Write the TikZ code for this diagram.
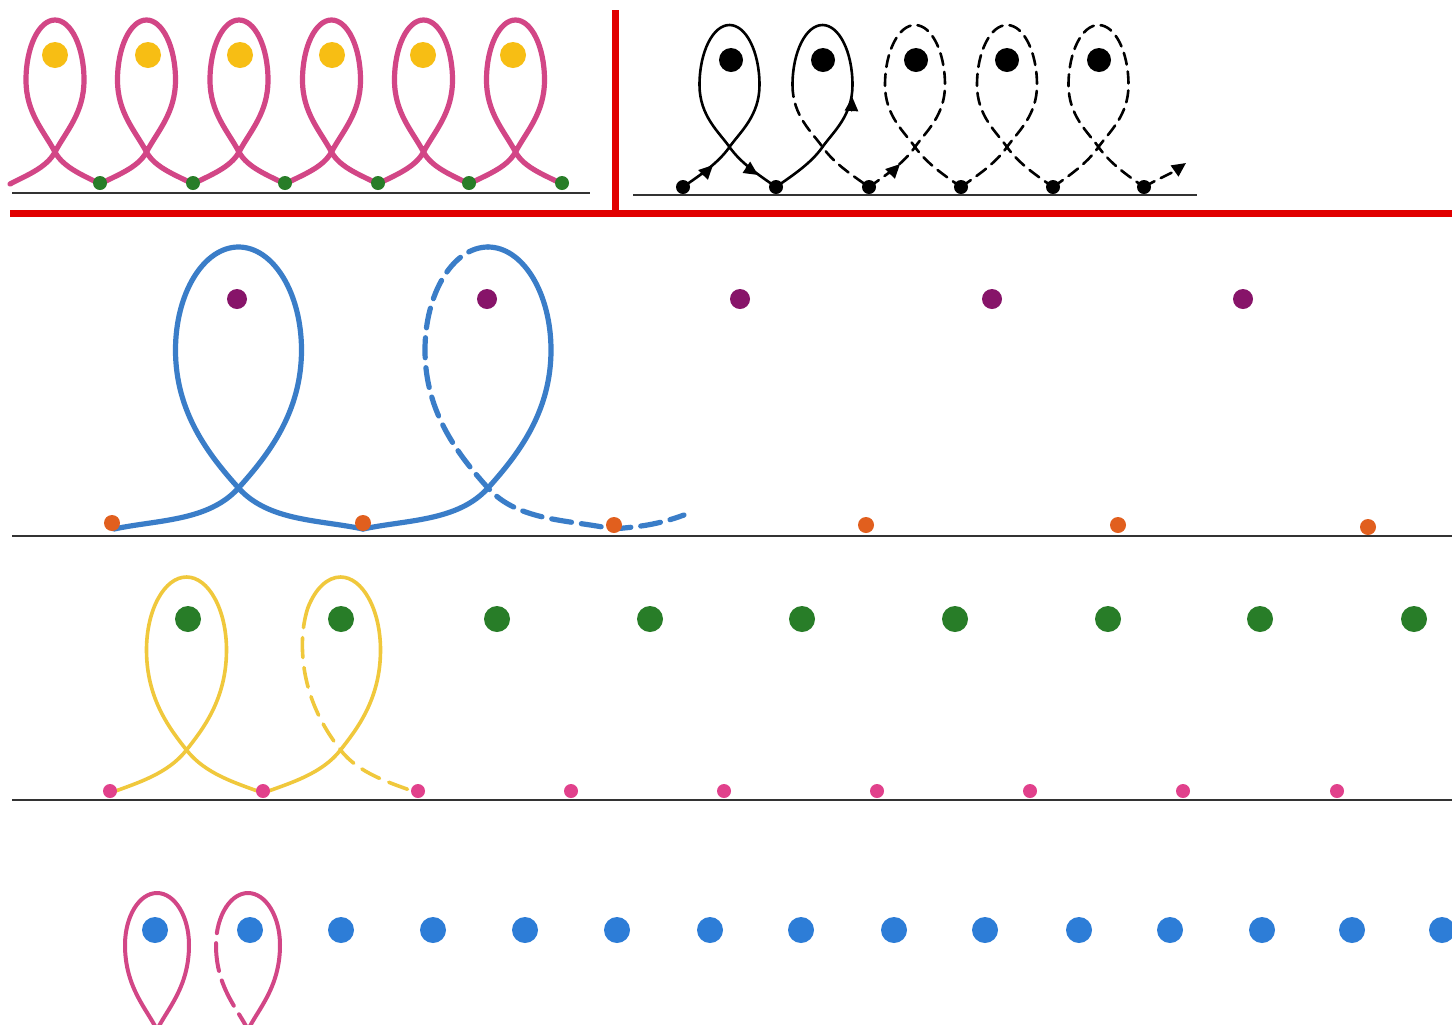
\documentclass[tikz,border=0pt]{standalone}
\usetikzlibrary{arrows.meta}
\definecolor{pinkL}{RGB}{210,70,134}
\definecolor{goldD}{RGB}{247,190,20}
\definecolor{greenD}{RGB}{40,125,40}
\definecolor{blueL}{RGB}{58,125,200}
\definecolor{purpleD}{RGB}{135,20,105}
\definecolor{orangeD}{RGB}{225,95,30}
\definecolor{yellowL}{RGB}{240,200,60}
\definecolor{pinkD}{RGB}{225,65,140}
\definecolor{blueD}{RGB}{45,125,215}
\definecolor{redL}{RGB}{225,0,0}
% geometry of a group of loops: start angle, crossing angle, start ctrl, crossing ctrl (strand), crossing ctrl (loop), side ctrl, half width, upper half height
\newcommand\setgeo[8]{\pgfmathsetmacro\aO{#1}\pgfmathsetmacro\aC{#2}\pgfmathsetmacro\aCi{#2-180}\pgfmathsetmacro\aCd{180-#2}\pgfmathsetmacro\aCm{-#2}\pgfmathsetmacro\aE{180-#1}%
 \def\dS{#3}\def\dCa{#4}\def\dCb{#5}\def\dR{#6}\def\Lw{#7}\def\Lh{#8}}
\newcommand\mkloop[6]{%
 \pgfmathsetmacro\LoopCx{(#2+#3)/2}%
 \coordinate (#1s) at (#2,-#4);
 \coordinate (#1e) at (#3,-#4);
 \coordinate (#1c) at (\LoopCx,-#5);
 \coordinate (#1r) at ({\LoopCx+\Lw},-#6);
 \coordinate (#1l) at ({\LoopCx-\Lw},-#6);
 \coordinate (#1t) at (\LoopCx,{-#6+\Lh});}
\newcommand\sFull[2]{\draw[#1] (#2s) .. controls +(\aO:\dS) and +(\aCi:\dCa) .. (#2c) .. controls +(\aC:\dCb) and +(0,-\dR) .. (#2r) arc[start angle=0,end angle=180,x radius=\Lw,y radius=\Lh] .. controls +(0,-\dR) and +(\aCd:\dCb) .. (#2c) .. controls +(\aCm:\dCa) and +(\aE:\dS) .. (#2e);}
\newcommand\sUpArc[3]{\draw[#1] (#2s) .. controls +(\aO:\dS) and +(\aCi:\dCa) .. (#2c) .. controls +(\aC:\dCb) and +(0,-\dR) .. (#2r) arc[start angle=0,end angle=#3,x radius=\Lw,y radius=\Lh] coordinate (#2p);}
\newcommand\sArcDown[3]{\draw[#1] (#2p) arc[start angle=#3,end angle=180,x radius=\Lw,y radius=\Lh] .. controls +(0,-\dR) and +(\aCd:\dCb) .. (#2c) .. controls +(\aCm:\dCa) and +(\aE:\dS) .. (#2e)}
\begin{document}
\begin{tikzpicture}[x=0.5pt,y=0.5pt,line cap=round,line join=round,
  baseln/.style={draw=black!80,line width=1pt,line cap=butt},
  redbar/.style={draw=redL,line width=3.5pt,line cap=butt},
  pinkloop/.style={draw=pinkL,line width=2.6pt},
  blackloop/.style={draw=black,line width=1.3pt},
  blackdash/.style={blackloop,dash pattern=on 6pt off 3.5pt},
  blueloop/.style={draw=blueL,line width=2.6pt},
  bluedash/.style={blueloop,dash pattern=on 10pt off 5pt},
  yelloop/.style={draw=yellowL,line width=1.8pt},
  yeldash/.style={yelloop,dash pattern=on 10pt off 5pt},
  bpink/.style={draw=pinkL,line width=2pt},
  bpinkdash/.style={bpink,dash pattern=on 14pt off 5pt},
  arr/.style={-{Triangle[length=7pt,width=6.5pt]},line width=1.3pt,draw=black}]
\useasboundingbox (0,0) rectangle (1452,-1024);
\fill[white] (0,0) rectangle (1452,-1024);
% frame lines
\draw[redbar] (10,-213) -- (1452,-213);
\draw[redbar] (615,-10) -- (615,-213);
\draw[baseln] (12,-193) -- (590,-193);
\draw[baseln] (633,-195) -- (1197,-195);
\draw[baseln] (12,-536) -- (1452,-536);
\draw[baseln] (12,-800) -- (1452,-800);
% top-left pink loops
\setgeo{28}{62}{18}{18}{24}{33}{29}{60}
\foreach \s/\e [count=\i] in {10/100,100/193,193/285,285/378,378/469,469/562}{
  \mkloop{tl\i}{\s}{\e}{184}{152}{80}
  \sFull{pinkloop}{tl\i}
}
\foreach \x in {55,148,240,332,423,513} \fill[goldD] (\x,-55) circle[radius=13];
\foreach \x in {100,193,285,378,469,562} \fill[greenD] (\x,-183) circle[radius=7];
% top-right black loops
\setgeo{35}{55}{20}{20}{18}{31}{30}{60}
\foreach \s/\e [count=\i] in {683/776,776/869,869/961,961/1053,1053/1144}{
  \mkloop{bk\i}{\s}{\e}{187}{147}{85}
}
\sFull{blackloop}{bk1}
\sUpArc{blackloop}{bk2}{180}
\sArcDown{blackdash}{bk2}{180};
\sFull{blackdash}{bk3}
\sFull{blackdash}{bk4}
\sFull{blackdash}{bk5}
\draw[blackdash,arr] (bk5e) to[out=30,in=-145] (1186,-163);
\draw[arr] (708,-170) -- (713,-165);
\draw[arr] (752,-171) -- (758,-175);
\draw[arr] (851.6,-109) -- (852.3,-97);
\draw[arr] (895,-169) -- (900,-164);
\foreach \x in {731,823,916,1007,1099} \fill[black] (\x,-60) circle[radius=12];
\foreach \x in {683,776,869,961,1053,1144} \fill[black] (\x,-187) circle[radius=7];
% blue loops
\setgeo{12}{48}{45}{45}{45}{62}{63}{103}
\mkloop{bl1}{114}{363}{529}{488}{350}
\mkloop{bl2}{363}{613}{529}{488}{350}
\sFull{blueloop}{bl1}
\sUpArc{blueloop}{bl2}{90}
\sArcDown{bluedash}{bl2}{90} to[out=5,in=200] (684,-515);
\foreach \x in {237,487,740,992,1243} \fill[purpleD] (\x,-299) circle[radius=10];
\foreach \x/\y in {112/523,363/523,614/525,866/525,1118/525,1368/527} \fill[orangeD] (\x,-\y) circle[radius=8];
% yellow loops
\setgeo{20}{52}{30}{30}{25}{50}{40}{73}
\mkloop{yl1}{110}{263}{793}{750}{650}
\mkloop{yl2}{263}{418}{793}{750}{650}
\sFull{yelloop}{yl1}
\sUpArc{yelloop}{yl2}{145}
\sArcDown{yeldash}{yl2}{150};
\foreach \x in {188,341,497,650,802,955,1108,1260,1414} \fill[greenD] (\x,-619) circle[radius=13];
\foreach \x in {110,263,418,571,724,877,1030,1183,1337} \fill[pinkD] (\x,-791) circle[radius=7];
% bottom pink loops
\setgeo{0}{65}{10}{10}{22}{43}{32}{52}
\mkloop{pp1}{157}{157}{1060}{1030}{945}
\mkloop{pp2}{248}{248}{1060}{1030}{945}
\draw[bpink] (pp1c) .. controls +(\aC:\dCb) and +(0,-\dR) .. (pp1r) arc[start angle=0,end angle=180,x radius=\Lw,y radius=\Lh] .. controls +(0,-\dR) and +(\aCd:\dCb) .. (pp1c);
\draw[bpink] (pp2c) .. controls +(\aC:\dCb) and +(0,-\dR) .. (pp2r) arc[start angle=0,end angle=133,x radius=\Lw,y radius=\Lh] coordinate (pp2p);
\draw[bpinkdash] (pp2p) arc[start angle=133,end angle=180,x radius=\Lw,y radius=\Lh] .. controls +(0,-\dR) and +(\aCd:\dCb) .. (pp2c);
\foreach \x in {155,250,341,433,525,617,710,801,894,985,1079,1170,1262,1352,1442} \fill[blueD] (\x,-930) circle[radius=13];
\end{tikzpicture}
\end{document}
